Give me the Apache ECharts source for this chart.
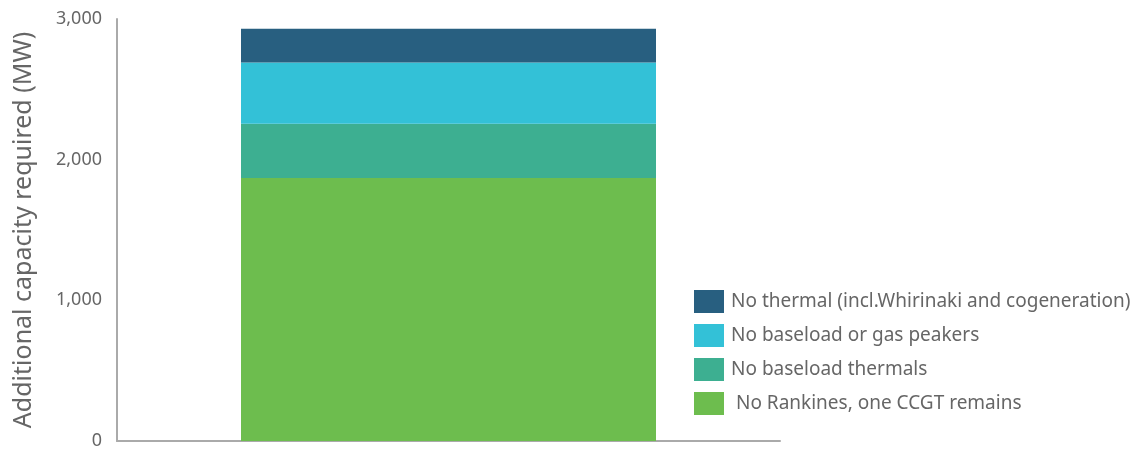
<!DOCTYPE html>
<html>
<head>
<meta charset="utf-8">
<script src="https://cdn.jsdelivr.net/npm/echarts@6/dist/echarts.min.js"></script>
<style>html,body{margin:0;padding:0;background:#fff}#c{width:1142px;height:450px}</style>
</head>
<body>
<div id="c"></div>
<script>
var categories = ['Scenario'];
var seriesNames = [' No Rankines, one CCGT remains', 'No baseload thermals', 'No baseload or gas peakers', 'No thermal (incl.Whirinaki and cogeneration)'];
var rankines = [1870];
var baseloadThermals = [385];
var baseloadGasPeakers = [435];
var noThermal = [240];
var yTicks = [0, 1000, 2000, 3000];
var colors = ['#6dbd4e', '#3daf91', '#33c1d7', '#285f80'];
var values = [rankines, baseloadThermals, baseloadGasPeakers, noThermal];

var chart = echarts.init(document.getElementById('c'));
var font = 'Noto Sans';
chart.setOption({
  animation: false,
  grid: {left: 117, right: 362, top: 19, bottom: 8},
  legend: {
    orient: 'vertical', left: 694, top: 290, padding: 0,
    itemWidth: 30, itemHeight: 23, itemGap: 11,
    icon: 'rect',
    data: seriesNames.slice().reverse(),
    textStyle: {color: '#666', fontSize: 19, fontFamily: font, padding: [0, 0, 0, 2]}
  },
  xAxis: {
    type: 'category', data: categories,
    axisLine: {lineStyle: {color: '#aaa', width: 2}},
    axisTick: {show: false}, axisLabel: {show: false}
  },
  yAxis: {
    type: 'value', min: yTicks[0], max: yTicks[yTicks.length - 1], interval: 1000,
    name: 'Additional capacity required (MW)', nameLocation: 'middle', nameGap: 81,
    nameTextStyle: {color: '#666', fontSize: 25, fontFamily: font},
    axisLine: {show: true, lineStyle: {color: '#aaa', width: 2}},
    axisTick: {show: false}, splitLine: {show: false},
    axisLabel: {color: '#666', fontSize: 18, fontFamily: font, margin: 15,
      formatter: function (v) { return v.toLocaleString('en-US'); }}
  },
  series: seriesNames.map(function (n, i) {
    return {name: n, type: 'bar', stack: 'total', barWidth: 415, data: values[i], itemStyle: {color: colors[i]}};
  })
});
</script>
</body>
</html>
